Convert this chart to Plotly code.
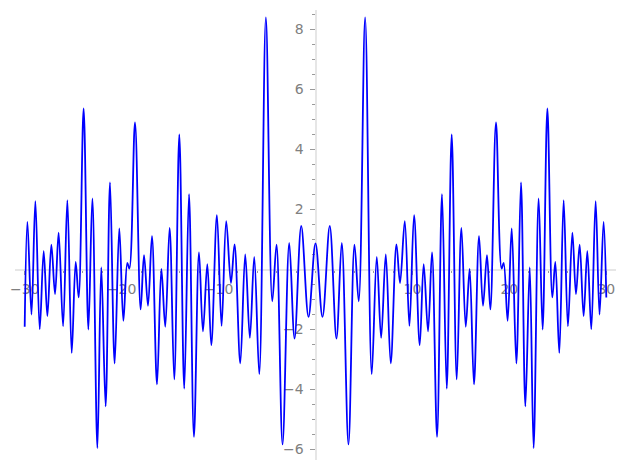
import plotly.graph_objects as go

# Extrema (left half, x < 0)
x_left = [-30.0, -29.72, -29.30, -28.90, -28.45, -28.04, -27.66, -27.25, -26.87, -26.50,
          -26.04, -25.60, -25.15, -24.74, -24.43, -23.92, -23.43, -23.02, -22.50, -22.10,
          -21.65, -21.20, -20.72, -20.24, -19.82, -19.41, -19.20, -18.62, -18.04, -17.69,
          -17.28, -16.87, -16.35, -15.90, -15.50, -15.05, -14.57, -14.05, -13.54, -13.05,
          -12.54, -12.02, -11.61, -11.16, -10.75, -10.17, -9.69, -9.21, -8.72, -8.35,
          -7.76, -7.25, -6.77, -6.32, -5.80, -5.12, -4.46, -4.02, -3.40, -2.71,
          -2.16, -1.47, -0.72]
y_left = [-1.91, 1.59, -1.50, 2.28, -1.99, 0.61, -1.55, 0.83, -0.82, 1.23,
          -1.89, 2.31, -2.78, 0.25, -0.93, 5.37, -2.00, 2.37, -5.95, 0.07,
          -4.56, 2.90, -3.13, 1.37, -1.71, 0.22, 0.03, 4.90, -1.33, 0.48,
          -1.21, 1.11, -3.83, 0.02, -1.91, 1.39, -3.66, 4.50, -3.97, 2.51,
          -5.58, 0.57, -2.06, 0.18, -2.52, 1.81, -1.88, 1.61, -0.45, 0.84,
          -3.13, 0.50, -2.28, 0.42, -3.49, 8.40, -1.06, 0.83, -5.83, 0.89,
          -2.30, 1.45, -1.58]

# Centre and right half (x >= 0)
x_right = [0.0, 0.72, 1.47, 2.16, 2.71, 3.40, 4.02, 4.46, 5.12, 5.80,
           6.32, 6.77, 7.25, 7.76, 8.35, 8.72, 9.21, 9.69, 10.17, 10.75,
           11.16, 11.61, 12.02, 12.54, 13.05, 13.54, 14.05, 14.57, 15.05, 15.50,
           15.90, 16.35, 16.87, 17.28, 17.69, 18.04, 18.62, 19.20, 19.41, 19.82,
           20.24, 20.72, 21.20, 21.65, 22.10, 22.50, 23.02, 23.43, 23.92, 24.43,
           24.74, 25.15, 25.60, 26.04, 26.50, 26.87, 27.25, 27.66, 28.04, 28.45,
           28.90, 29.30, 29.72, 30.0]
y_right = [0.87, -1.58, 1.45, -2.30, 0.89, -5.83, 0.83, -1.06, 8.40, -3.49,
           0.42, -2.28, 0.50, -3.13, 0.84, -0.45, 1.61, -1.88, 1.81, -2.52,
           0.18, -2.06, 0.57, -5.58, 2.51, -3.97, 4.50, -3.66, 1.39, -1.91,
           0.02, -3.83, 1.11, -1.21, 0.48, -1.33, 4.90, 0.03, 0.22, -1.71,
           1.37, -3.13, 2.90, -4.56, 0.07, -5.95, 2.37, -2.00, 5.37, -0.93,
           0.25, -2.78, 2.31, -1.89, 1.23, -0.82, 0.83, -1.55, 0.61, -1.99,
           2.28, -1.50, 1.59, -0.93]

x_ticks = [-30, -20, -10, 10, 20, 30]
x_ticktext = ["\u221230", "\u221220", "\u221210", "10", "20", "30"]
y_ticks = [-6, -4, -2, 2, 4, 6, 8]
y_ticktext = ["\u22126", "\u22124", "\u22122", "2", "4", "6", "8"]

x_range = [-31, 31]
y_range = [-6.35, 8.65]

fig = go.Figure()
fig.add_trace(go.Scatter(
    x=x_left + x_right, y=y_left + y_right, mode="lines",
    line=dict(color="#0000ff", width=1.8, shape="spline", smoothing=1.0),
    hoverinfo="skip", showlegend=False,
))

axis_line = "#e6e6e6"
tick_col = "#9a9a9a"
label_font = dict(family="DejaVu Sans", size=14, color="#808080")

fig.update_layout(
    width=627, height=468,
    margin=dict(l=15, r=10.6, t=9.8, b=8.2, autoexpand=False),
    paper_bgcolor="white", plot_bgcolor="white",
    showlegend=False,
    xaxis=dict(
        range=x_range, showgrid=False, zeroline=False, automargin=False,
        showline=True, linecolor=axis_line, linewidth=2,
        anchor="free", position=(0 - y_range[0]) / (y_range[1] - y_range[0]),
        ticks="outside", ticklen=4, tickwidth=1, tickcolor=tick_col,
        tickmode="array", tickvals=x_ticks, ticktext=x_ticktext,
        tickfont=label_font, ticklabelstandoff=3,
        minor=dict(ticks="outside", tickmode="linear", tick0=0, dtick=2,
                   ticklen=2, tickcolor=tick_col, showgrid=False),
        layer="below traces",
    ),
    yaxis=dict(
        range=y_range, showgrid=False, zeroline=False, automargin=False,
        showline=True, linecolor=axis_line, linewidth=2,
        anchor="free", position=(0 - x_range[0]) / (x_range[1] - x_range[0]),
        ticks="outside", ticklen=5, tickwidth=1, tickcolor=tick_col,
        tickmode="array", tickvals=y_ticks, ticktext=y_ticktext,
        tickfont=label_font, ticklabelstandoff=3,
        minor=dict(ticks="outside", tickmode="linear", tick0=0, dtick=0.5,
                   ticklen=2.5, tickcolor=tick_col, showgrid=False),
        layer="below traces",
    ),
)

fig.write_html(
    "out.html",
    config={"displayModeBar": False, "staticPlot": True},
    post_script="document.body.style.margin='0';document.body.style.overflow='hidden';",
)
